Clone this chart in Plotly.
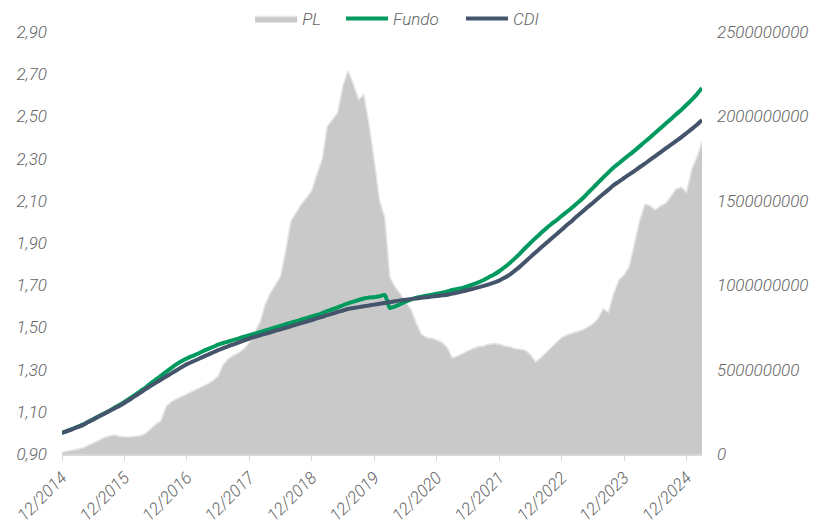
import pandas as pd
import plotly.graph_objects as go

# Monthly dates: 12/2014 .. 03/2025
dates = pd.date_range("2014-12-01", "2025-03-01", freq="MS")

# PL (patrimonio liquido), in millions of BRL
pl_millions = [
    10, 15, 20, 28, 35, 50, 65, 80, 95, 105, 112, 105,
    100, 100, 102, 108, 120, 150, 175, 195, 280, 310, 325, 340,
    355, 370, 385, 400, 415, 435, 460, 530, 565, 585, 600, 625,
    660, 720, 780, 880, 950, 1000, 1050, 1200, 1380, 1430, 1480, 1520,
    1560, 1660, 1750, 1940, 1980, 2020, 2180, 2270, 2190, 2100, 2130, 1950,
    1740, 1500, 1400, 1050, 990, 950, 900, 860, 780, 710, 690, 685,
    675, 660, 630, 570, 580, 595, 610, 625, 635, 640, 650, 655,
    650, 640, 635, 625, 620, 615, 590, 545, 570, 600, 630, 665,
    690, 705, 715, 725, 735, 750, 770, 800, 860, 840, 950, 1030,
    1060, 1110, 1240, 1380, 1480, 1470, 1445, 1470, 1485, 1530, 1570, 1580,
    1550, 1690, 1760, 1850,
]

fundo = [
    1.000, 1.010, 1.019, 1.029, 1.039, 1.052, 1.065, 1.078, 1.091, 1.104, 1.118, 1.132,
    1.147, 1.163, 1.180, 1.197, 1.214, 1.234, 1.252, 1.270, 1.289, 1.308, 1.326, 1.341,
    1.353, 1.364, 1.375, 1.386, 1.397, 1.407, 1.418, 1.426, 1.433, 1.441, 1.448, 1.456,
    1.463, 1.470, 1.478, 1.485, 1.492, 1.500, 1.507, 1.515, 1.522, 1.530, 1.537, 1.544,
    1.552, 1.559, 1.568, 1.577, 1.586, 1.595, 1.605, 1.614, 1.622, 1.630, 1.637, 1.642,
    1.643, 1.648, 1.653, 1.592, 1.600, 1.610, 1.622, 1.632, 1.640, 1.645, 1.650, 1.655,
    1.660, 1.665, 1.671, 1.677, 1.682, 1.687, 1.695, 1.704, 1.713, 1.725, 1.738, 1.751,
    1.766, 1.785, 1.805, 1.826, 1.850, 1.875, 1.900, 1.923, 1.946, 1.969, 1.989, 2.008,
    2.028, 2.048, 2.068, 2.088, 2.110, 2.135, 2.160, 2.185, 2.210, 2.235, 2.258, 2.278,
    2.298, 2.318, 2.338, 2.358, 2.380, 2.400, 2.422, 2.444, 2.466, 2.488, 2.510, 2.532,
    2.555, 2.580, 2.607, 2.635,
]

cdi = [
    1.000, 1.009, 1.018, 1.027, 1.037, 1.050, 1.063, 1.076, 1.089, 1.102, 1.115, 1.128,
    1.142, 1.158, 1.174, 1.190, 1.206, 1.222, 1.237, 1.252, 1.267, 1.282, 1.297, 1.312,
    1.326, 1.337, 1.348, 1.359, 1.370, 1.381, 1.392, 1.402, 1.411, 1.420, 1.429, 1.438,
    1.447, 1.455, 1.462, 1.469, 1.476, 1.484, 1.491, 1.498, 1.505, 1.513, 1.520, 1.528,
    1.535, 1.543, 1.550, 1.558, 1.565, 1.573, 1.580, 1.587, 1.592, 1.596, 1.600, 1.604,
    1.608, 1.612, 1.616, 1.620, 1.624, 1.628, 1.631, 1.634, 1.637, 1.640, 1.643, 1.646,
    1.649, 1.652, 1.655, 1.660, 1.665, 1.671, 1.677, 1.683, 1.690, 1.697, 1.704, 1.712,
    1.722, 1.735, 1.750, 1.768, 1.788, 1.810, 1.833, 1.855, 1.877, 1.899, 1.920, 1.942,
    1.963, 1.985, 2.006, 2.027, 2.048, 2.069, 2.090, 2.111, 2.132, 2.153, 2.174, 2.191,
    2.208, 2.225, 2.242, 2.259, 2.276, 2.294, 2.312, 2.330, 2.348, 2.366, 2.384, 2.402,
    2.421, 2.441, 2.462, 2.483,
]

tick_dates = pd.date_range("2014-12-01", "2024-12-01", freq="12MS")

pl = [v * 1e6 for v in pl_millions]

FONT = "Roboto"
TXT = "#636363"
tfont = dict(family=FONT, size=17, color=TXT, style="italic", weight=300)

fig = go.Figure()
fig.add_trace(go.Scatter(
    x=dates, y=pl, name="PL", mode="lines", fill="tozeroy",
    fillcolor="#c9c9c9", line=dict(color="#e4e4e4", width=1.5),
    yaxis="y", legend="legend",
))
fig.add_trace(go.Scatter(
    x=dates, y=fundo, name="Fundo", mode="lines",
    line=dict(color="#009a5f", width=4, shape="spline", smoothing=0.6),
    yaxis="y2", legend="legend2",
))
fig.add_trace(go.Scatter(
    x=dates, y=cdi, name="CDI", mode="lines",
    line=dict(color="#44546a", width=4, shape="spline", smoothing=0.8),
    yaxis="y2", legend="legend3",
))


def leg(xpos):
    return dict(
        orientation="h", x=xpos, xanchor="left", y=1.031, yanchor="middle",
        font=tfont, bgcolor="rgba(0,0,0,0)", itemwidth=42,
    )


# page body has an 8px default margin: figure is sized/offset to compensate
fig.update_layout(
    width=811, height=517,
    margin=dict(l=54, r=117, t=24, b=71, autoexpand=False),
    paper_bgcolor="white", plot_bgcolor="white",
    separators=",.",
    font=dict(family=FONT, color=TXT),
    showlegend=True,
    legend=leg(0.294),
    legend2=leg(0.436),
    legend3=leg(0.6234),
    xaxis=dict(
        type="date", range=[dates[0], dates[-1]],
        tickvals=list(tick_dates), tickformat="%m/%Y", tickangle=-45,
        ticks="outside", ticklen=5, tickcolor="#d9d9d9",
        showline=True, linecolor="#d9d9d9", linewidth=2,
        showgrid=False, zeroline=False, tickfont=tfont, automargin=False,
    ),
    yaxis=dict(
        side="right", range=[0, 2.5e9], dtick=5e8, tick0=0,
        tickformat="d", showgrid=False, zeroline=False, showline=False,
        tickfont=tfont, ticklabelstandoff=14, automargin=False,
    ),
    yaxis2=dict(
        overlaying="y", side="left", range=[0.9, 2.9], dtick=0.2, tick0=0.9,
        tickformat=".2f", showgrid=False, zeroline=False, showline=False,
        tickfont=tfont, ticklabelstandoff=14, automargin=False,
    ),
)

fig.write_html("out.html")
